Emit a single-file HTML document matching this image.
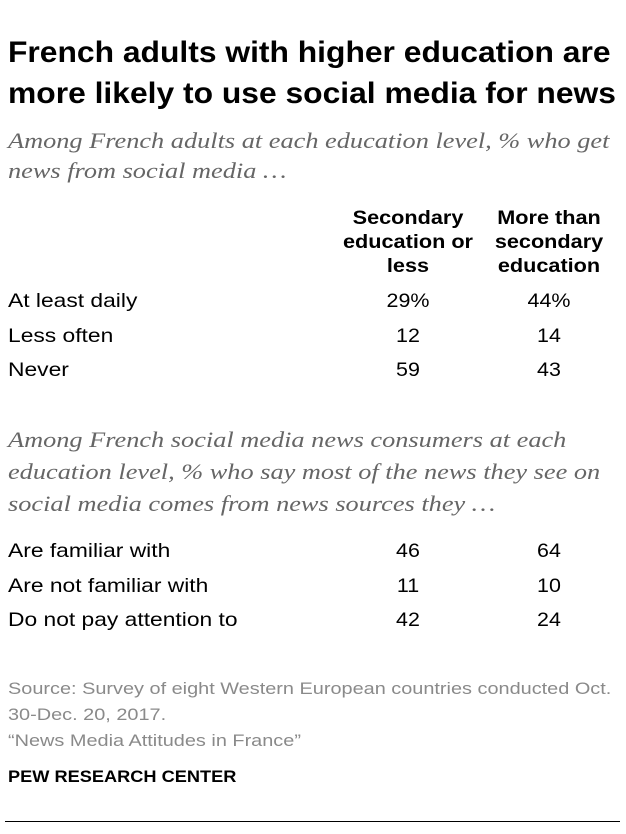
<!DOCTYPE html>
<html><head><style>
body{margin:0;width:626px;height:834px;background:#fff;position:relative;overflow:hidden;font-family:"Liberation Sans",sans-serif}
div{position:absolute;white-space:nowrap}
.t{left:8px;font-weight:bold;font-size:30px;color:#000;transform:scaleX(1.06);transform-origin:0 0}
.s{left:8px;font-family:"Liberation Serif",serif;font-style:italic;font-size:22.5px;color:#666;transform:scaleX(1.17);transform-origin:0 0}
.h{font-weight:bold;font-size:19px;text-align:center;width:160px;line-height:24px;transform:scaleX(1.14);transform-origin:50% 0}
.r{left:8px;font-size:19.5px;color:#000;transform:scaleX(1.17);transform-origin:0 0}
.v{font-size:19.5px;text-align:center;width:80px;transform:scaleX(1.1);transform-origin:50% 0}
.src{left:8px;font-size:17px;color:#8a8a8a;transform:scaleX(1.17);transform-origin:0 0}
</style></head><body>
<div class="t" style="top:36px">French adults with higher education are</div>
<div class="t" style="top:77px">more likely to use social media for news</div>
<div class="s" style="top:128px">Among French adults at each education level, % who get</div>
<div class="s" style="top:158px">news from social media …</div>
<div class="h" style="left:328px;top:207px">Secondary<br>education or<br>less</div>
<div class="h" style="left:469px;top:207px">More than<br>secondary<br>education</div>
<div class="r" style="top:290px">At least daily</div><div class="v" style="left:368px;top:290px">29%</div><div class="v" style="left:509px;top:290px">44%</div>
<div class="r" style="top:325px">Less often</div><div class="v" style="left:368px;top:325px">12</div><div class="v" style="left:509px;top:325px">14</div>
<div class="r" style="top:359px">Never</div><div class="v" style="left:368px;top:359px">59</div><div class="v" style="left:509px;top:359px">43</div>
<div class="s" style="top:427px">Among French social media news consumers at each</div>
<div class="s" style="top:459px">education level, % who say most of the news they see on</div>
<div class="s" style="top:491px">social media comes from news sources they …</div>
<div class="r" style="top:540px">Are familiar with</div><div class="v" style="left:368px;top:540px">46</div><div class="v" style="left:509px;top:540px">64</div>
<div class="r" style="top:575px">Are not familiar with</div><div class="v" style="left:368px;top:575px">11</div><div class="v" style="left:509px;top:575px">10</div>
<div class="r" style="top:609px">Do not pay attention to</div><div class="v" style="left:368px;top:609px">42</div><div class="v" style="left:509px;top:609px">24</div>
<div class="src" style="top:679px">Source: Survey of eight Western European countries conducted Oct.</div>
<div class="src" style="top:705px">30-Dec. 20, 2017.</div>
<div class="src" style="top:731px">“News Media Attitudes in France”</div>
<div class="src" style="top:767px;font-weight:bold;color:#000;transform:scaleX(1.07)">PEW RESEARCH CENTER</div>
<div style="left:5px;top:821px;width:615px;height:1px;background:#000"></div>
</body></html>
